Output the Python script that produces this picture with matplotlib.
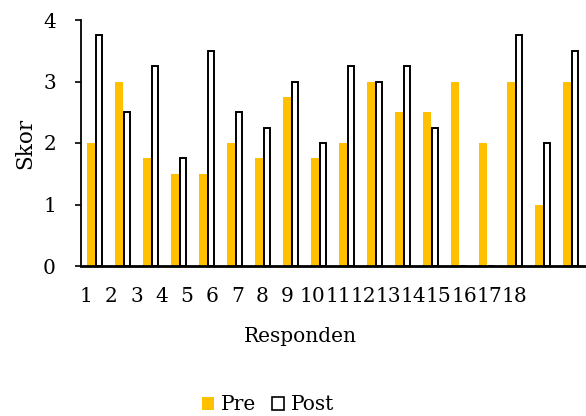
import matplotlib
matplotlib.use("Agg")
import matplotlib.pyplot as plt
import numpy as np
from matplotlib.patches import Patch

respondents = [str(i) for i in range(1, 19)]
pre = [2, 3, 1.75, 1.5, 1.5, 2, 1.75, 2.75, 1.75, 2, 3, 2.5, 2.5, 3, 2, 3, 1, 3]
post = [3.75, 2.5, 3.25, 1.75, 3.5, 2.5, 2.25, 3, 2, 3.25, 3, 3.25, 2.25, 0, 0, 3.75, 2, 3.5]

plt.rcParams['font.family'] = ['DejaVu Serif']
FS = 14.5

fig = plt.figure(figsize=(5.86, 4.16), dpi=100)
ax = fig.add_axes([81 / 586, 1 - 266 / 416, 504 / 586, 246 / 416])

x = np.arange(1, len(respondents) + 1)
w = 0.285
ax.bar(x - w / 2, pre, width=w, color='#FFC000', edgecolor='none', zorder=2)
ax.bar(x + w / 2, post, width=w - 0.04, color='white', edgecolor='black',
       linewidth=1.4, zorder=2)

ax.set_xlim(0.5, 18.5)
ax.set_ylim(0, 4)
ax.set_yticks([0, 1, 2, 3, 4])
ax.tick_params(axis='y', labelsize=FS, length=4, width=1.2, pad=14)

# category labels, packed a little tighter than the bar groups
label_x = 0.68 + 0.9 * (x - 1)
ax.set_xticks(label_x)
ax.set_xticklabels(respondents)
ax.tick_params(axis='x', labelsize=FS, length=0, pad=15)

for s in ['top', 'right']:
    ax.spines[s].set_visible(False)
ax.spines['left'].set_linewidth(1.3)
ax.spines['bottom'].set_linewidth(2)
ax.spines['bottom'].set_zorder(3)

ax.set_ylabel('Skor', fontsize=FS + 1)
ax.yaxis.set_label_coords(-(81 - 36) / 504, 0.5)
fig.text(300 / 586, 1 - 337 / 416, 'Responden', fontsize=FS, ha='center', va='center')

handles = [Patch(facecolor='#FFC000', edgecolor='none', label='Pre'),
           Patch(facecolor='white', edgecolor='black', linewidth=1.2, label='Post')]
fig.legend(handles=handles, loc='center', bbox_to_anchor=(268 / 586, 1 - 405 / 416),
           ncol=2, frameon=False, fontsize=FS, handlelength=0.6, handleheight=0.6,
           handletextpad=0.35, columnspacing=0.8)

fig.savefig('out.png', dpi=100)
